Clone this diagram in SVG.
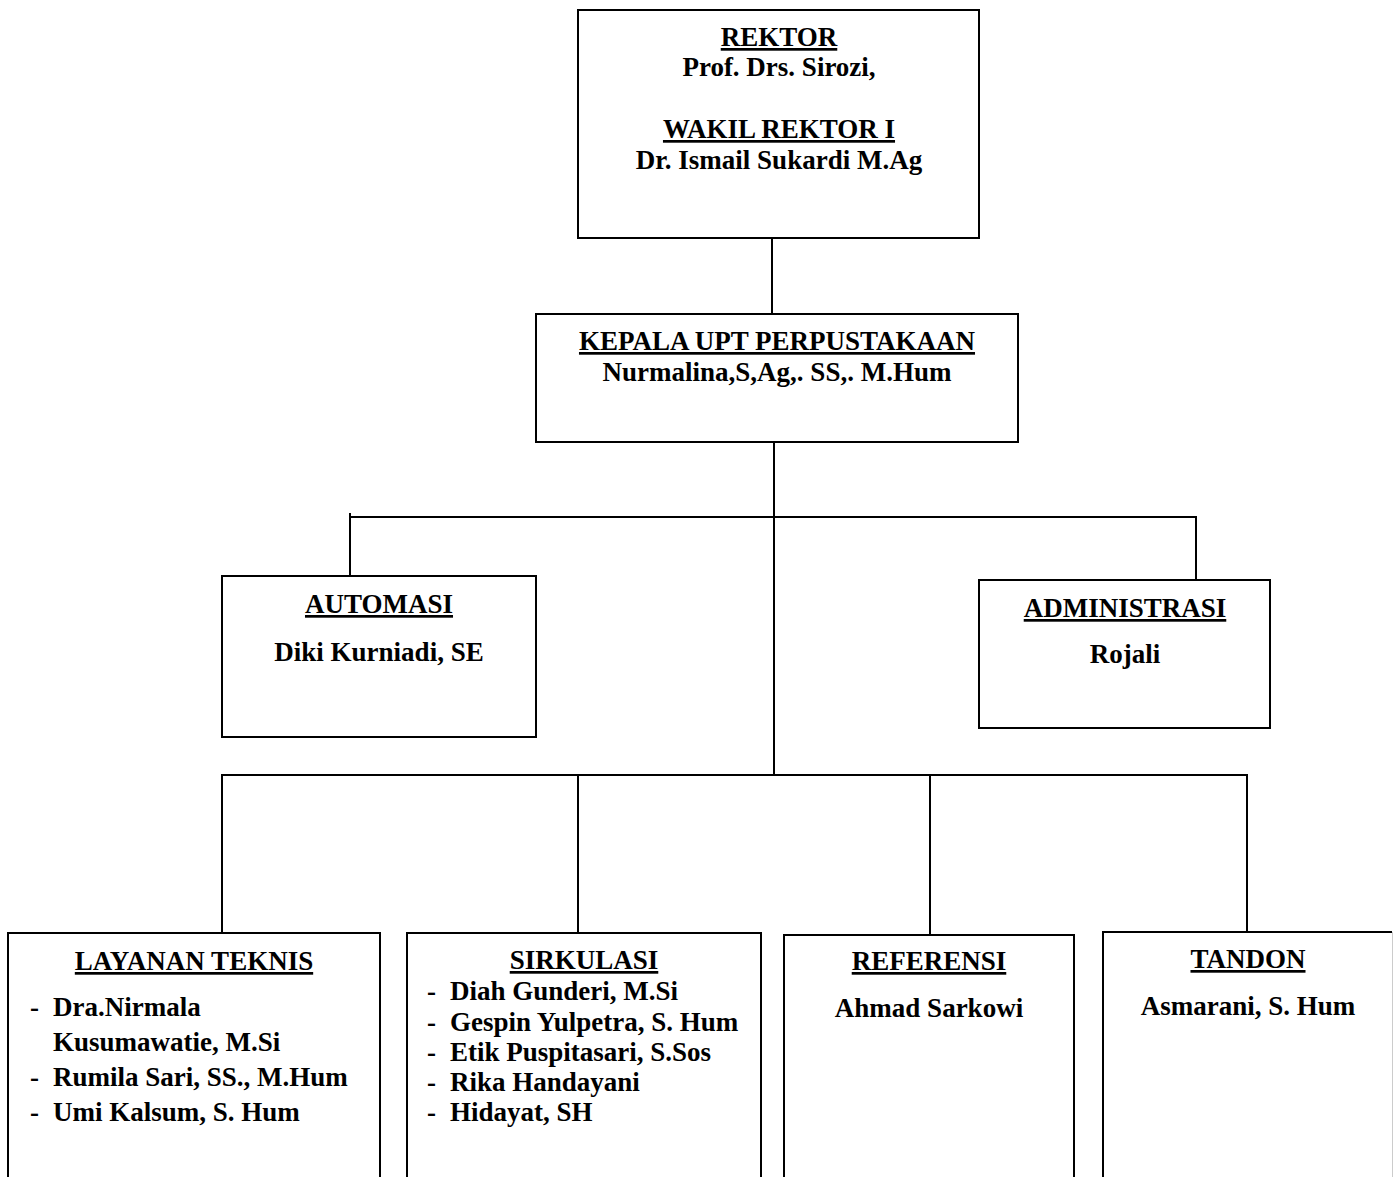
<svg xmlns="http://www.w3.org/2000/svg" width="1393" height="1177" viewBox="0 0 1393 1177">
<style>
.box{fill:#fff;stroke:#000;stroke-width:2}
.ln{stroke:#000;stroke-width:2;fill:none}
text{font-family:"Liberation Serif","Times New Roman",serif;font-weight:bold;font-size:27px;fill:#000}
.c{text-anchor:middle}
.u{text-decoration:underline}
</style>
<rect width="1393" height="1177" fill="#fff"/>
<g id="connectors">
<line class="ln" x1="772" y1="238" x2="772" y2="314"/>
<line class="ln" x1="774" y1="442" x2="774" y2="775"/>
<polyline class="ln" points="350,513 350,517 1196,517 1196,580"/>
<line class="ln" x1="350" y1="517" x2="350" y2="576"/>
<polyline class="ln" points="222,933 222,775 1247,775 1247,932"/>
<line class="ln" x1="578" y1="775" x2="578" y2="933"/>
<line class="ln" x1="930" y1="775" x2="930" y2="935"/>
</g>
<g id="rektor">
<rect class="box" x="578" y="10" width="401" height="228"/>
<text class="c u" x="779" y="46">REKTOR</text>
<text class="c" x="779" y="76">Prof. Drs. Sirozi,</text>
<text class="c u" x="779" y="138">WAKIL REKTOR I</text>
<text class="c" x="779" y="169">Dr. Ismail Sukardi M.Ag</text>
</g>
<g id="kepala">
<rect class="box" x="536" y="314" width="482" height="128"/>
<text class="c u" x="777" y="350">KEPALA UPT PERPUSTAKAAN</text>
<text class="c" x="777" y="381">Nurmalina,S,Ag,. SS,. M.Hum</text>
</g>
<g id="automasi">
<rect class="box" x="222" y="576" width="314" height="161"/>
<text class="c u" x="379" y="613">AUTOMASI</text>
<text class="c" x="379" y="661">Diki Kurniadi, SE</text>
</g>
<g id="administrasi">
<rect class="box" x="979" y="580" width="291" height="148"/>
<text class="c u" x="1125" y="617">ADMINISTRASI</text>
<text class="c" x="1125" y="663">Rojali</text>
</g>
<g id="layanan-teknis">
<path class="ln" d="M8,1180 V933 H380 V1180"/>
<text class="c u" x="194" y="970">LAYANAN TEKNIS</text>
<text x="30" y="1016">-</text><text x="53" y="1016">Dra.Nirmala</text>
<text x="53" y="1051">Kusumawatie, M.Si</text>
<text x="30" y="1086">-</text><text x="53" y="1086">Rumila Sari, SS., M.Hum</text>
<text x="30" y="1121">-</text><text x="53" y="1121">Umi Kalsum, S. Hum</text>
</g>
<g id="sirkulasi">
<path class="ln" d="M407,1180 V933 H761 V1180"/>
<text class="c u" x="584" y="969">SIRKULASI</text>
<text x="427" y="1000">-</text><text x="450" y="1000">Diah Gunderi, M.Si</text>
<text x="427" y="1031">-</text><text x="450" y="1031">Gespin Yulpetra, S. Hum</text>
<text x="427" y="1061">-</text><text x="450" y="1061">Etik Puspitasari, S.Sos</text>
<text x="427" y="1091">-</text><text x="450" y="1091">Rika Handayani</text>
<text x="427" y="1121">-</text><text x="450" y="1121">Hidayat, SH</text>
</g>
<g id="referensi">
<path class="ln" d="M784,1180 V935 H1074 V1180"/>
<text class="c u" x="929" y="970">REFERENSI</text>
<text class="c" x="929" y="1017">Ahmad Sarkowi</text>
</g>
<g id="tandon">
<path class="ln" d="M1103,1180 V932 H1392"/>
<line x1="1392.5" y1="932" x2="1392.5" y2="1180" stroke="#ccc" stroke-width="1"/>
<text class="c u" x="1248" y="968">TANDON</text>
<text class="c" x="1248" y="1015">Asmarani, S. Hum</text>
</g>
</svg>
